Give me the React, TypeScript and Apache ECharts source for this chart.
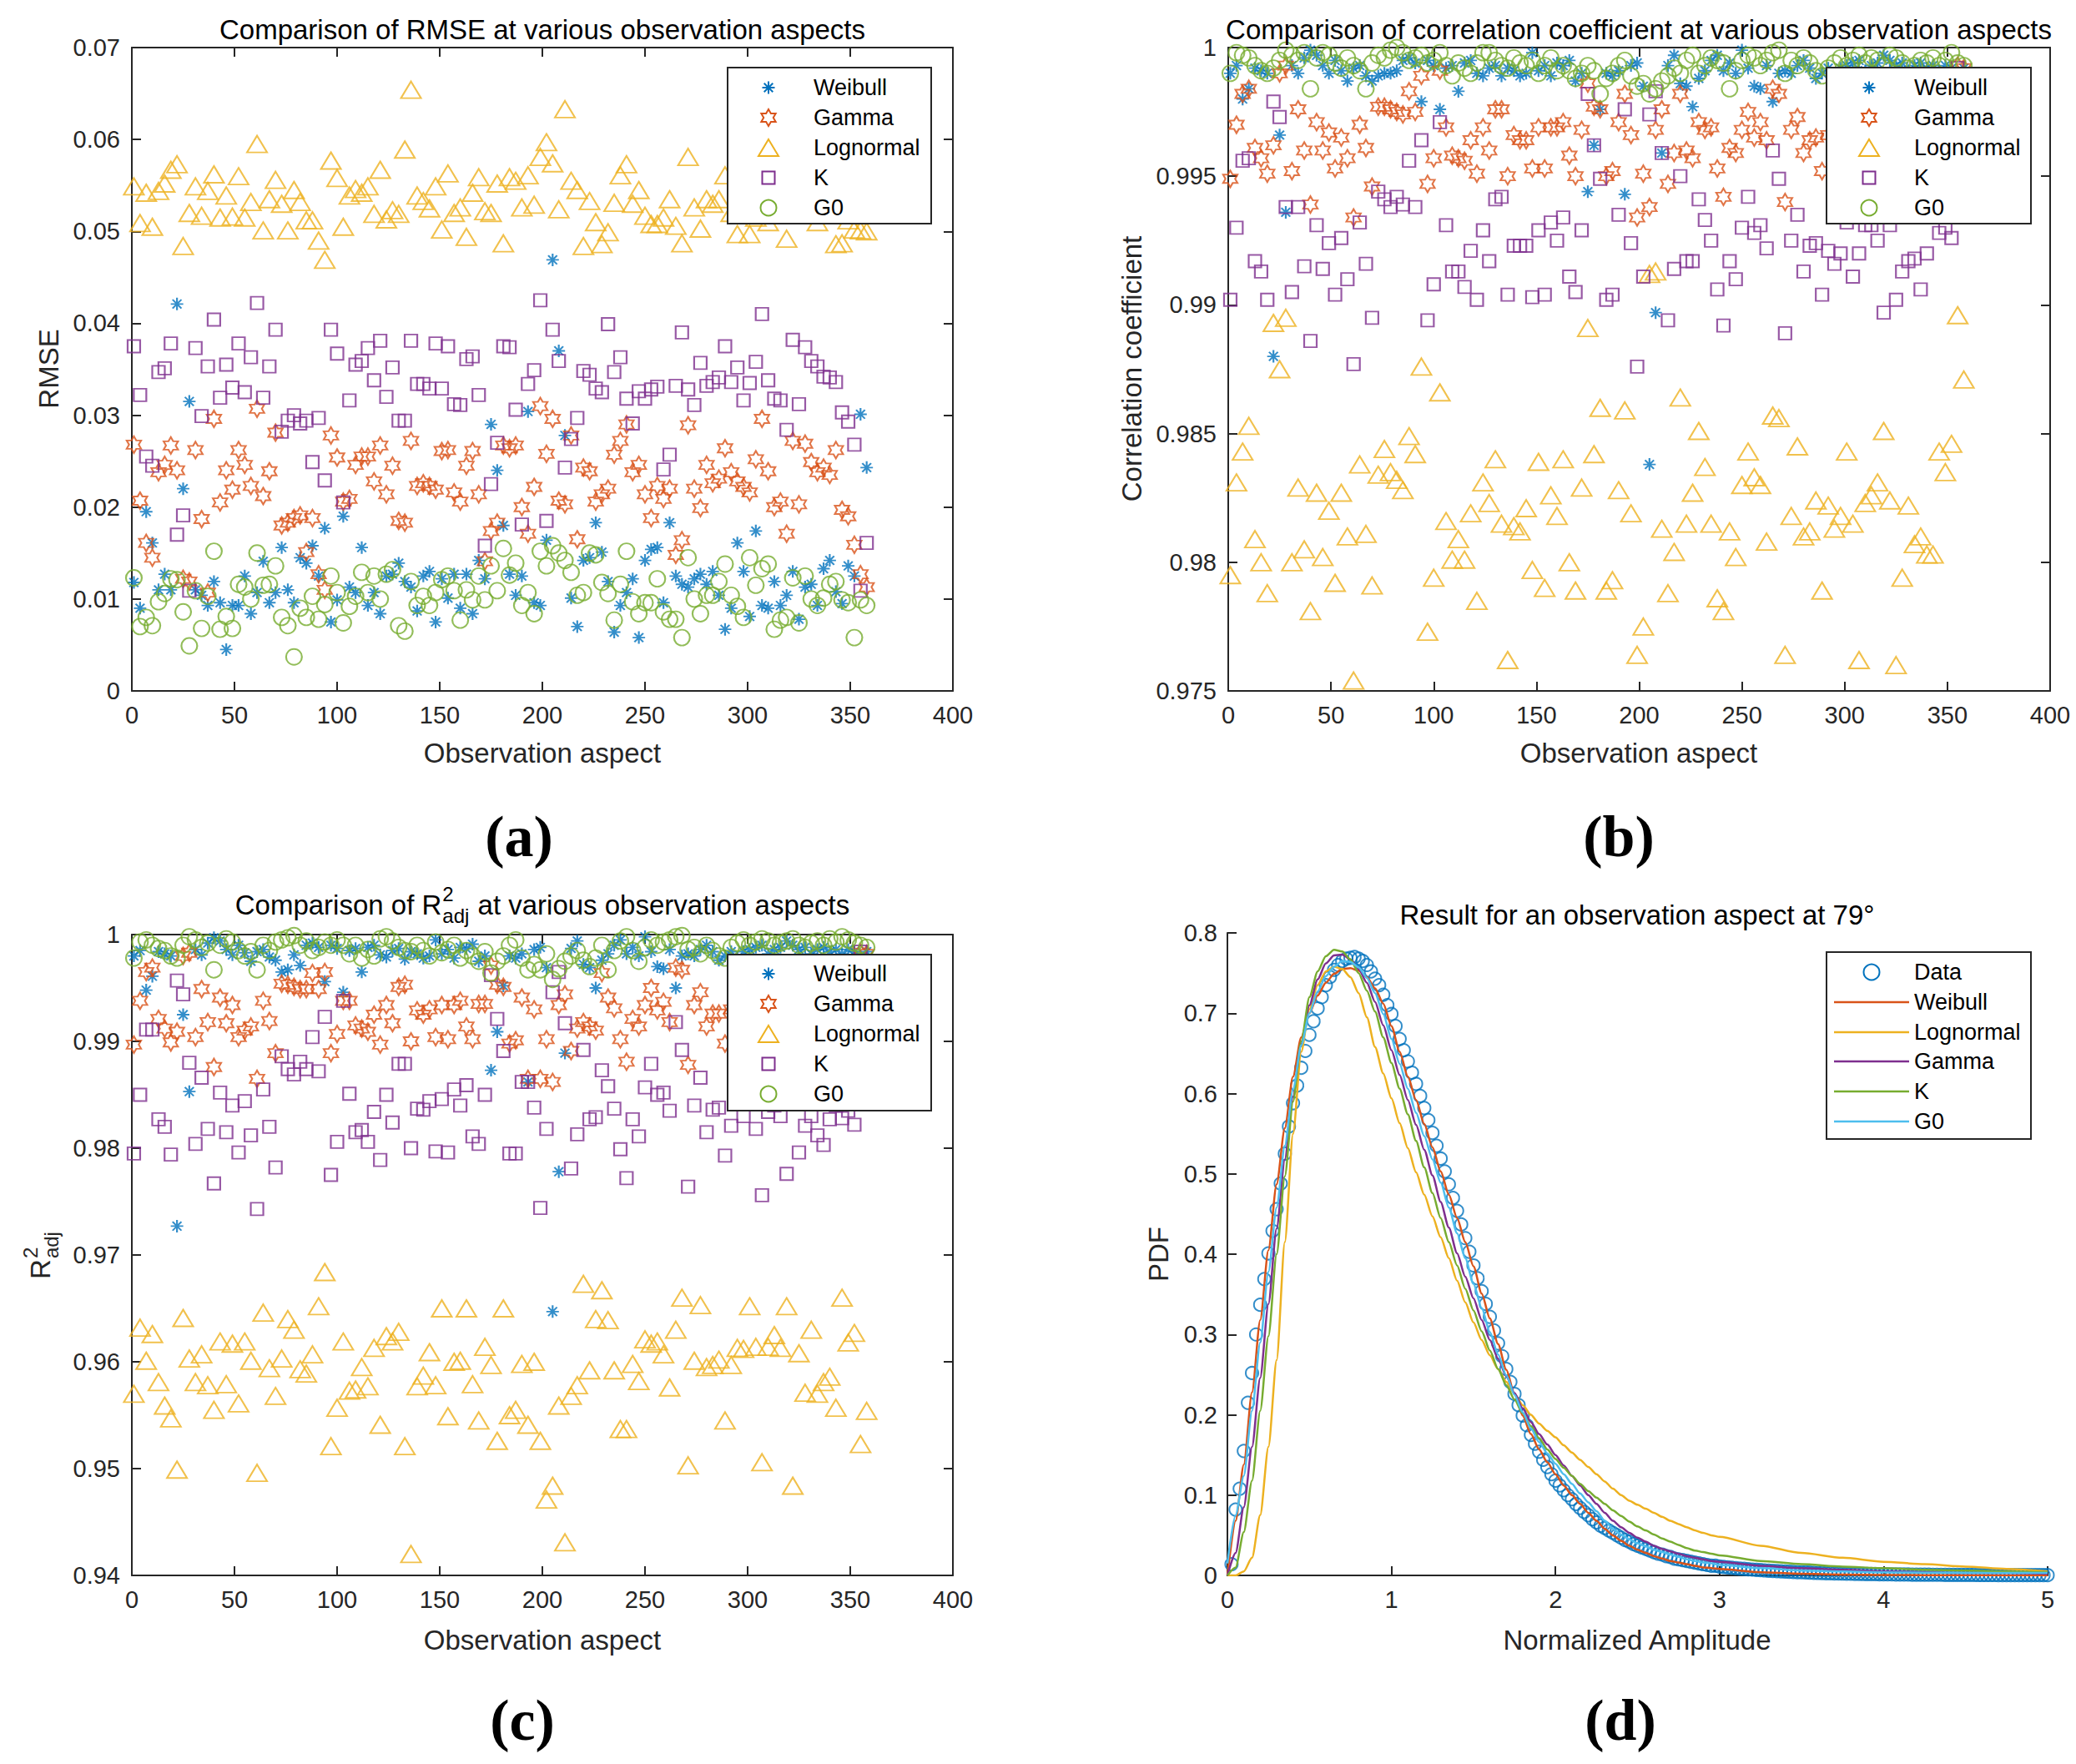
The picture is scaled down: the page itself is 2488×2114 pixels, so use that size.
import React, { useEffect, useRef } from 'react';
import * as echarts from 'echarts';

const FONT = '"Liberation Sans", Arial, Helvetica, sans-serif';
const SERIF = '"Liberation Serif", "Times New Roman", serif';
const AXIS_COLOR = '#262626';

const C_BLUE = '#0072BD';
const C_ORANGE = '#D95319';
const C_YELLOW = '#EDB120';
const C_PURPLE = '#7E2F8E';
const C_GREEN = '#77AC30';
const C_CYAN = '#4DBEEE';

// Observation aspects (degrees)
const aspects = [
  1, 4, 7, 10, 13, 16, 19, 22, 25, 28, 31, 34, 37, 40, 43, 46, 49, 52, 55, 58,
  61, 64, 67, 70, 73, 76, 79, 82, 85, 88, 91, 94, 97, 100, 103, 106, 109, 112, 115, 118,
  121, 124, 127, 130, 133, 136, 139, 142, 145, 148, 151, 154, 157, 160, 163, 166, 169, 172, 175, 178,
  181, 184, 187, 190, 193, 196, 199, 202, 205, 208, 211, 214, 217, 220, 223, 226, 229, 232, 235, 238,
  241, 244, 247, 250, 253, 256, 259, 262, 265, 268, 271, 274, 277, 280, 283, 286, 289, 292, 295, 298,
  301, 304, 307, 310, 313, 316, 319, 322, 325, 328, 331, 334, 337, 340, 343, 346, 349, 352, 355, 358,
];

// (a) RMSE
const rmseWeibull = [
  0.0118, 0.0090, 0.0195, 0.0161, 0.0110, 0.0127, 0.0110, 0.0421, 0.0220, 0.0315,
  0.0110, 0.0104, 0.0093, 0.0119, 0.0096, 0.0045, 0.0093, 0.0093, 0.0125, 0.0084,
  0.0107, 0.0141, 0.0096, 0.0107, 0.0156, 0.0110, 0.0096, 0.0145, 0.0139, 0.0158,
  0.0125, 0.0177, 0.0075, 0.0099, 0.0190, 0.0113, 0.0107, 0.0156, 0.0093, 0.0107,
  0.0084, 0.0125, 0.0127, 0.0139, 0.0119, 0.0113, 0.0087, 0.0125, 0.0130, 0.0075,
  0.0122, 0.0101, 0.0127, 0.0090, 0.0127, 0.0084, 0.0142, 0.0122, 0.0290, 0.0240,
  0.0180, 0.0127, 0.0104, 0.0125, 0.0304, 0.0096, 0.0093, 0.0164, 0.0469, 0.0370,
  0.0278, 0.0101, 0.0070, 0.0142, 0.0145, 0.0183, 0.0151, 0.0119, 0.0064, 0.0093,
  0.0107, 0.0122, 0.0058, 0.0142, 0.0154, 0.0156, 0.0096, 0.0183, 0.0125, 0.0116,
  0.0113, 0.0122, 0.0127, 0.0116, 0.0130, 0.0104, 0.0067, 0.0090, 0.0161, 0.0130,
  0.0081, 0.0174, 0.0093, 0.0090, 0.0119, 0.0093, 0.0104, 0.0130, 0.0078, 0.0113,
  0.0116, 0.0093, 0.0133, 0.0142, 0.0108, 0.0095, 0.0136, 0.0125, 0.0301, 0.0243,
];
const rmseGamma = [
  0.0268, 0.0207, 0.0161, 0.0145, 0.0238, 0.0246, 0.0267, 0.0240, 0.0122, 0.0119,
  0.0262, 0.0187, 0.0107, 0.0296, 0.0205, 0.0240, 0.0219, 0.0262, 0.0246, 0.0223,
  0.0307, 0.0212, 0.0239, 0.0281, 0.0180, 0.0183, 0.0188, 0.0191, 0.0151, 0.0188,
  0.0127, 0.0110, 0.0278, 0.0254, 0.0206, 0.0209, 0.0246, 0.0255, 0.0255, 0.0228,
  0.0267, 0.0214, 0.0245, 0.0185, 0.0183, 0.0272, 0.0223, 0.0226, 0.0223, 0.0219,
  0.0261, 0.0262, 0.0216, 0.0206, 0.0245, 0.0261, 0.0214, 0.0141, 0.0174, 0.0183,
  0.0267, 0.0264, 0.0267, 0.0200, 0.0171, 0.0222, 0.0310, 0.0258, 0.0296, 0.0207,
  0.0203, 0.0278, 0.0165, 0.0243, 0.0239, 0.0206, 0.0214, 0.0220, 0.0257, 0.0272,
  0.0290, 0.0238, 0.0246, 0.0214, 0.0188, 0.0223, 0.0209, 0.0220, 0.0148, 0.0164,
  0.0289, 0.0220, 0.0199, 0.0246, 0.0226, 0.0231, 0.0264, 0.0238, 0.0228, 0.0222,
  0.0216, 0.0252, 0.0296, 0.0239, 0.0200, 0.0206, 0.0171, 0.0272, 0.0203, 0.0269,
  0.0249, 0.0238, 0.0243, 0.0235, 0.0262, 0.0197, 0.0190, 0.0159, 0.0127, 0.0113,
];
const rmseLognormal = [
  0.0549, 0.0509, 0.0542, 0.0505, 0.0544, 0.0552, 0.0567, 0.0573, 0.0484, 0.0520,
  0.0549, 0.0517, 0.0544, 0.0562, 0.0515, 0.0539, 0.0516, 0.0560, 0.0515, 0.0532,
  0.0595, 0.0501, 0.0535, 0.0556, 0.0530, 0.0501, 0.0545, 0.0532, 0.0512, 0.0512,
  0.0490, 0.0469, 0.0577, 0.0558, 0.0505, 0.0539, 0.0546, 0.0542, 0.0549, 0.0519,
  0.0567, 0.0513, 0.0523, 0.0519, 0.0589, 0.0654, 0.0539, 0.0533, 0.0525, 0.0549,
  0.0502, 0.0563, 0.0520, 0.0526, 0.0494, 0.0542, 0.0559, 0.0522, 0.0520, 0.0552,
  0.0487, 0.0559, 0.0555, 0.0526, 0.0561, 0.0529, 0.0581, 0.0597, 0.0574, 0.0524,
  0.0633, 0.0555, 0.0545, 0.0484, 0.0533, 0.0510, 0.0486, 0.0499, 0.0531, 0.0561,
  0.0573, 0.0530, 0.0545, 0.0517, 0.0508, 0.0508, 0.0515, 0.0535, 0.0506, 0.0487,
  0.0581, 0.0526, 0.0503, 0.0535, 0.0530, 0.0535, 0.0561, 0.0520, 0.0497, 0.0535,
  0.0497, 0.0515, 0.0540, 0.0510, 0.0525, 0.0545, 0.0492, 0.0530, 0.0555, 0.0520,
  0.0540, 0.0510, 0.0535, 0.0528, 0.0486, 0.0487, 0.0512, 0.0502, 0.0501, 0.0500,
];
const rmseK = [
  0.0375, 0.0322, 0.0255, 0.0245, 0.0347, 0.0351, 0.0378, 0.0170, 0.0191, 0.0109,
  0.0373, 0.0299, 0.0353, 0.0404, 0.0319, 0.0355, 0.0330, 0.0378, 0.0325, 0.0363,
  0.0422, 0.0319, 0.0353, 0.0393, 0.0282, 0.0294, 0.0300, 0.0291, 0.0294, 0.0249,
  0.0297, 0.0229, 0.0393, 0.0367, 0.0205, 0.0316, 0.0355, 0.0359, 0.0373, 0.0338,
  0.0381, 0.0320, 0.0352, 0.0294, 0.0294, 0.0381, 0.0334, 0.0334, 0.0329, 0.0378,
  0.0329, 0.0375, 0.0312, 0.0311, 0.0361, 0.0364, 0.0322, 0.0158, 0.0225, 0.0270,
  0.0375, 0.0374, 0.0306, 0.0181, 0.0334, 0.0349, 0.0425, 0.0185, 0.0393, 0.0359,
  0.0243, 0.0274, 0.0297, 0.0348, 0.0344, 0.0329, 0.0325, 0.0399, 0.0347, 0.0363,
  0.0318, 0.0291, 0.0326, 0.0318, 0.0328, 0.0331, 0.0241, 0.0257, 0.0332, 0.0390,
  0.0328, 0.0311, 0.0357, 0.0332, 0.0336, 0.0341, 0.0375, 0.0336, 0.0352, 0.0316,
  0.0335, 0.0358, 0.0410, 0.0338, 0.0318, 0.0316, 0.0284, 0.0382, 0.0312, 0.0374,
  0.0359, 0.0353, 0.0342, 0.0341, 0.0336, 0.0303, 0.0293, 0.0268, 0.0109, 0.0161,
];
const rmseG0 = [
  0.0123, 0.0070, 0.0080, 0.0071, 0.0097, 0.0106, 0.0122, 0.0121, 0.0086, 0.0049,
  0.0109, 0.0068, 0.0103, 0.0152, 0.0067, 0.0081, 0.0068, 0.0116, 0.0113, 0.0100,
  0.0150, 0.0115, 0.0116, 0.0136, 0.0080, 0.0071, 0.0037, 0.0090, 0.0080, 0.0103,
  0.0078, 0.0094, 0.0125, 0.0107, 0.0074, 0.0092, 0.0103, 0.0129, 0.0107, 0.0125,
  0.0100, 0.0127, 0.0132, 0.0071, 0.0065, 0.0119, 0.0093, 0.0103, 0.0093, 0.0107,
  0.0121, 0.0125, 0.0109, 0.0077, 0.0110, 0.0099, 0.0125, 0.0099, 0.0136, 0.0109,
  0.0155, 0.0126, 0.0139, 0.0093, 0.0107, 0.0084, 0.0152, 0.0136, 0.0158, 0.0150,
  0.0142, 0.0129, 0.0104, 0.0107, 0.0150, 0.0148, 0.0118, 0.0106, 0.0077, 0.0116,
  0.0152, 0.0097, 0.0084, 0.0096, 0.0096, 0.0122, 0.0086, 0.0078, 0.0078, 0.0058,
  0.0145, 0.0100, 0.0084, 0.0104, 0.0104, 0.0119, 0.0138, 0.0104, 0.0092, 0.0080,
  0.0145, 0.0115, 0.0133, 0.0138, 0.0067, 0.0077, 0.0080, 0.0123, 0.0074, 0.0125,
  0.0100, 0.0093, 0.0101, 0.0116, 0.0119, 0.0099, 0.0096, 0.0058, 0.0099, 0.0093,
];

// (b) correlation coefficient
const corrWeibull = [
  0.9990, 0.9993, 0.9980, 0.9984, 0.9992, 0.9991, 0.9990, 0.9880, 0.9966, 0.9936,
  0.9993, 0.9990, 0.9996, 0.9999, 0.9997, 0.9993, 0.9990, 0.9995, 0.9991, 0.9987,
  0.9992, 0.9993, 0.9989, 0.9987, 0.9989, 0.9990, 0.9990, 0.9991, 0.9995, 0.9996,
  0.9994, 0.9979, 0.9995, 0.9993, 0.9976, 0.9992, 0.9993, 0.9983, 0.9994, 0.9995,
  0.9990, 0.9989, 0.9992, 0.9993, 0.9989, 0.9992, 0.9991, 0.9989, 0.9990, 0.9998,
  0.9991, 0.9993, 0.9989, 0.9994, 0.9993, 0.9995, 0.9987, 0.9990, 0.9944, 0.9962,
  0.9976, 0.9990, 0.9989, 0.9991, 0.9943, 0.9993, 0.9994, 0.9985, 0.9838, 0.9897,
  0.9959, 0.9993, 0.9997, 0.9986, 0.9985, 0.9977, 0.9988, 0.9991, 0.9995, 0.9997,
  0.9991, 0.9994, 0.9990, 0.9999, 0.9992, 0.9985, 0.9984, 0.9993, 0.9979, 0.9990,
  0.9991, 0.9990, 0.9993, 0.9995, 0.9992, 0.9988, 0.9990, 0.9992, 0.9989, 0.9992,
  0.9993, 0.9994, 0.9995, 0.9991, 0.9993, 0.9994, 0.9997, 0.9995, 0.9993, 0.9994,
  0.9991, 0.9993, 0.9994, 0.9992, 0.9993, 0.9991, 0.9993, 0.9992, 0.9990, 0.9992,
];
const corrGamma = [
  0.9949, 0.9970, 0.9982, 0.9984, 0.9961, 0.9957, 0.9951, 0.9962, 0.9990, 0.9993,
  0.9952, 0.9976, 0.9960, 0.9939, 0.9971, 0.9960, 0.9967, 0.9953, 0.9965, 0.9957,
  0.9934, 0.9970, 0.9961, 0.9946, 0.9977, 0.9977, 0.9976, 0.9975, 0.9974, 0.9983,
  0.9975, 0.9989, 0.9947, 0.9957, 0.9991, 0.9969, 0.9958, 0.9957, 0.9956, 0.9964,
  0.9951, 0.9969, 0.9960, 0.9976, 0.9976, 0.9950, 0.9966, 0.9964, 0.9964, 0.9953,
  0.9969, 0.9953, 0.9969, 0.9969, 0.9971, 0.9958, 0.9950, 0.9968, 0.9986, 0.9977,
  0.9976, 0.9950, 0.9952, 0.9971, 0.9982, 0.9966, 0.9934, 0.9951, 0.9938, 0.9968,
  0.9976, 0.9947, 0.9959, 0.9982, 0.9960, 0.9957, 0.9971, 0.9968, 0.9969, 0.9953,
  0.9942, 0.9961, 0.9959, 0.9968, 0.9975, 0.9965, 0.9971, 0.9964, 0.9984, 0.9982,
  0.9940, 0.9968, 0.9973, 0.9959, 0.9964, 0.9965, 0.9952, 0.9966, 0.9962, 0.9957,
  0.9970, 0.9965, 0.9960, 0.9972, 0.9968, 0.9963, 0.9958, 0.9966, 0.9970, 0.9961,
  0.9964, 0.9967, 0.9969, 0.9972, 0.9965, 0.9960, 0.9968, 0.9963, 0.9993, 0.9992,
];
const corrLognormal = [
  0.9795, 0.9831, 0.9843, 0.9853, 0.9809, 0.9800, 0.9788, 0.9893, 0.9875, 0.9895,
  0.9800, 0.9829, 0.9805, 0.9781, 0.9827, 0.9802, 0.9820, 0.9792, 0.9827, 0.9810,
  0.9754, 0.9838, 0.9811, 0.9791, 0.9834, 0.9844, 0.9835, 0.9832, 0.9828, 0.9849,
  0.9842, 0.9876, 0.9773, 0.9794, 0.9866, 0.9816, 0.9801, 0.9809, 0.9801, 0.9819,
  0.9785, 0.9831, 0.9823, 0.9840, 0.9815, 0.9762, 0.9814, 0.9812, 0.9821, 0.9797,
  0.9839, 0.9790, 0.9826, 0.9818, 0.9840, 0.9800, 0.9789, 0.9829, 0.9891, 0.9842,
  0.9860, 0.9789, 0.9793, 0.9828, 0.9859, 0.9819, 0.9764, 0.9775, 0.9912, 0.9913,
  0.9813, 0.9788, 0.9804, 0.9864, 0.9815, 0.9827, 0.9851, 0.9837, 0.9815, 0.9786,
  0.9781, 0.9812, 0.9802, 0.9830, 0.9843, 0.9833, 0.9830, 0.9808, 0.9857, 0.9856,
  0.9764, 0.9818, 0.9845, 0.9810, 0.9812, 0.9824, 0.9789, 0.9822, 0.9813, 0.9818,
  0.9843, 0.9815, 0.9762, 0.9823, 0.9826, 0.9831, 0.9851, 0.9824, 0.9760, 0.9794,
  0.9822, 0.9807, 0.9810, 0.9803, 0.9803, 0.9843, 0.9835, 0.9846, 0.9896, 0.9871,
];
const corrK = [
  0.9902, 0.9930, 0.9956, 0.9957, 0.9917, 0.9913, 0.9902, 0.9979, 0.9973, 0.9938,
  0.9905, 0.9938, 0.9915, 0.9886, 0.9931, 0.9914, 0.9924, 0.9904, 0.9926, 0.9910,
  0.9877, 0.9932, 0.9916, 0.9895, 0.9944, 0.9941, 0.9938, 0.9942, 0.9939, 0.9956,
  0.9938, 0.9964, 0.9894, 0.9908, 0.9971, 0.9931, 0.9913, 0.9913, 0.9907, 0.9921,
  0.9902, 0.9929, 0.9917, 0.9941, 0.9942, 0.9904, 0.9923, 0.9923, 0.9923, 0.9903,
  0.9929, 0.9904, 0.9932, 0.9925, 0.9934, 0.9911, 0.9905, 0.9929, 0.9982, 0.9962,
  0.9949, 0.9902, 0.9904, 0.9935, 0.9976, 0.9924, 0.9876, 0.9911, 0.9974, 0.9983,
  0.9959, 0.9894, 0.9914, 0.9950, 0.9917, 0.9917, 0.9941, 0.9933, 0.9925, 0.9906,
  0.9892, 0.9917, 0.9910, 0.9930, 0.9942, 0.9928, 0.9931, 0.9922, 0.9960, 0.9949,
  0.9889, 0.9925, 0.9935, 0.9913, 0.9923, 0.9924, 0.9904, 0.9921, 0.9916, 0.9920,
  0.9932, 0.9911, 0.9920, 0.9931, 0.9931, 0.9925, 0.9897, 0.9931, 0.9902, 0.9913,
  0.9917, 0.9918, 0.9906, 0.9920, 0.9935, 0.9928, 0.9930, 0.9926, 0.9992, 0.9965,
];
const corrG0 = [
  0.9990, 0.9998, 0.9997, 0.9996, 0.9993, 0.9991, 0.9990, 0.9992, 0.9995, 0.9999,
  0.9997, 0.9995, 0.9998, 0.9984, 0.9996, 0.9998, 0.9997, 0.9994, 0.9992, 0.9996,
  0.9993, 0.9991, 0.9984, 0.9994, 0.9997, 0.9996, 0.9999, 1.0000, 0.9998, 0.9995,
  0.9996, 0.9997, 0.9994, 0.9995, 0.9998, 0.9993, 0.9989, 0.9994, 0.9992, 0.9990,
  0.9994, 0.9998, 0.9998, 0.9995, 0.9993, 0.9992, 0.9996, 0.9994, 0.9993, 0.9995,
  0.9990, 0.9993, 0.9996, 0.9991, 0.9993, 0.9991, 0.9988, 0.9990, 0.9993, 0.9991,
  0.9982, 0.9988, 0.9990, 0.9993, 0.9995, 0.9989, 0.9985, 0.9986, 0.9982, 0.9984,
  0.9987, 0.9989, 0.9992, 0.9990, 0.9995, 0.9997, 0.9990, 0.9993, 0.9996, 0.9995,
  0.9994, 0.9984, 0.9991, 0.9995, 0.9997, 0.9996, 0.9993, 0.9995, 0.9998, 0.9999,
  0.9990, 0.9995, 0.9993, 0.9996, 0.9994, 0.9991, 0.9989, 0.9992, 0.9994, 0.9996,
  0.9993, 0.9995, 0.9997, 0.9994, 0.9996, 0.9995, 0.9993, 0.9997, 0.9996, 0.9994,
  0.9992, 0.9993, 0.9995, 0.9994, 0.9996, 0.9993, 0.9995, 0.9998, 0.9994, 0.9993,
];

// (c) adjusted R^2
const r2Weibull = [
  0.9980, 0.9985, 0.9948, 0.9961, 0.9984, 0.9982, 0.9980, 0.9727, 0.9925, 0.9853,
  0.9986, 0.9981, 0.9992, 0.9997, 0.9994, 0.9986, 0.9981, 0.9990, 0.9983, 0.9975,
  0.9984, 0.9986, 0.9979, 0.9976, 0.9965, 0.9967, 0.9981, 0.9971, 0.9990, 0.9992,
  0.9988, 0.9956, 0.9990, 0.9987, 0.9946, 0.9985, 0.9987, 0.9965, 0.9988, 0.9990,
  0.9981, 0.9979, 0.9985, 0.9987, 0.9977, 0.9984, 0.9982, 0.9978, 0.9980, 0.9995,
  0.9982, 0.9986, 0.9978, 0.9988, 0.9987, 0.9991, 0.9975, 0.9980, 0.9873, 0.9909,
  0.9952, 0.9980, 0.9978, 0.9982, 0.9862, 0.9986, 0.9988, 0.9969, 0.9647, 0.9778,
  0.9889, 0.9987, 0.9994, 0.9972, 0.9969, 0.9950, 0.9976, 0.9982, 0.9990, 0.9995,
  0.9982, 0.9988, 0.9980, 0.9998, 0.9984, 0.9970, 0.9968, 0.9986, 0.9950, 0.9980,
  0.9982, 0.9980, 0.9986, 0.9990, 0.9984, 0.9976, 0.9980, 0.9984, 0.9978, 0.9984,
  0.9986, 0.9988, 0.9990, 0.9982, 0.9986, 0.9988, 0.9994, 0.9990, 0.9986, 0.9988,
  0.9982, 0.9986, 0.9988, 0.9984, 0.9986, 0.9982, 0.9986, 0.9984, 0.9980, 0.9984,
];
const r2Gamma = [
  0.9897, 0.9938, 0.9965, 0.9969, 0.9921, 0.9912, 0.9899, 0.9909, 0.9980, 0.9983,
  0.9904, 0.9949, 0.9918, 0.9876, 0.9941, 0.9917, 0.9934, 0.9904, 0.9910, 0.9914,
  0.9865, 0.9938, 0.9919, 0.9889, 0.9954, 0.9953, 0.9951, 0.9949, 0.9949, 0.9964,
  0.9949, 0.9965, 0.9889, 0.9907, 0.9938, 0.9938, 0.9915, 0.9912, 0.9909, 0.9925,
  0.9897, 0.9934, 0.9917, 0.9951, 0.9953, 0.9900, 0.9929, 0.9925, 0.9930, 0.9904,
  0.9934, 0.9902, 0.9934, 0.9938, 0.9914, 0.9902, 0.9935, 0.9935, 0.9971, 0.9953,
  0.9951, 0.9898, 0.9901, 0.9941, 0.9865, 0.9930, 0.9865, 0.9902, 0.9862, 0.9934,
  0.9944, 0.9891, 0.9912, 0.9918, 0.9914, 0.9910, 0.9964, 0.9941, 0.9931, 0.9902,
  0.9881, 0.9921, 0.9914, 0.9934, 0.9950, 0.9929, 0.9937, 0.9918, 0.9969, 0.9967,
  0.9878, 0.9934, 0.9946, 0.9914, 0.9926, 0.9926, 0.9898, 0.9930, 0.9922, 0.9935,
  0.9940, 0.9928, 0.9918, 0.9944, 0.9936, 0.9925, 0.9916, 0.9932, 0.9940, 0.9921,
  0.9928, 0.9935, 0.9939, 0.9944, 0.9930, 0.9920, 0.9936, 0.9928, 0.9983, 0.9982,
];
const r2Lognormal = [
  0.9570, 0.9632, 0.9601, 0.9626, 0.9581, 0.9559, 0.9547, 0.9499, 0.9641, 0.9603,
  0.9581, 0.9607, 0.9578, 0.9555, 0.9619, 0.9579, 0.9617, 0.9561, 0.9619, 0.9601,
  0.9496, 0.9646, 0.9594, 0.9568, 0.9603, 0.9640, 0.9630, 0.9593, 0.9589, 0.9607,
  0.9652, 0.9684, 0.9521, 0.9557, 0.9619, 0.9573, 0.9574, 0.9595, 0.9577, 0.9613,
  0.9541, 0.9624, 0.9619, 0.9628, 0.9521, 0.9420, 0.9577, 0.9587, 0.9609, 0.9578,
  0.9650, 0.9549, 0.9600, 0.9601, 0.9650, 0.9579, 0.9545, 0.9614, 0.9597, 0.9526,
  0.9650, 0.9550, 0.9555, 0.9598, 0.9541, 0.9600, 0.9526, 0.9471, 0.9484, 0.9559,
  0.9431, 0.9568, 0.9578, 0.9673, 0.9592, 0.9640, 0.9667, 0.9639, 0.9592, 0.9537,
  0.9537, 0.9598, 0.9582, 0.9621, 0.9617, 0.9619, 0.9607, 0.9576, 0.9630, 0.9660,
  0.9503, 0.9601, 0.9653, 0.9595, 0.9597, 0.9602, 0.9545, 0.9597, 0.9613, 0.9612,
  0.9652, 0.9614, 0.9506, 0.9614, 0.9625, 0.9613, 0.9652, 0.9484, 0.9608, 0.9571,
  0.9630, 0.9570, 0.9581, 0.9586, 0.9557, 0.9660, 0.9618, 0.9627, 0.9523, 0.9554,
];
const r2K = [
  0.9795, 0.9850, 0.9911, 0.9911, 0.9827, 0.9820, 0.9794, 0.9957, 0.9944, 0.9880,
  0.9804, 0.9866, 0.9818, 0.9767, 0.9852, 0.9815, 0.9840, 0.9796, 0.9844, 0.9812,
  0.9743, 0.9855, 0.9820, 0.9782, 0.9886, 0.9874, 0.9869, 0.9881, 0.9874, 0.9904,
  0.9872, 0.9923, 0.9775, 0.9806, 0.9938, 0.9851, 0.9815, 0.9817, 0.9806, 0.9834,
  0.9789, 0.9850, 0.9824, 0.9879, 0.9879, 0.9800, 0.9837, 0.9836, 0.9844, 0.9797,
  0.9846, 0.9796, 0.9855, 0.9840, 0.9859, 0.9811, 0.9804, 0.9850, 0.9962, 0.9921,
  0.9891, 0.9795, 0.9795, 0.9862, 0.9862, 0.9838, 0.9744, 0.9818, 0.9946, 0.9965,
  0.9917, 0.9781, 0.9813, 0.9892, 0.9827, 0.9829, 0.9873, 0.9858, 0.9837, 0.9799,
  0.9772, 0.9827, 0.9811, 0.9857, 0.9879, 0.9850, 0.9852, 0.9835, 0.9918, 0.9892,
  0.9764, 0.9840, 0.9866, 0.9815, 0.9836, 0.9838, 0.9793, 0.9821, 0.9845, 0.9830,
  0.9850, 0.9818, 0.9756, 0.9834, 0.9840, 0.9830, 0.9776, 0.9845, 0.9796, 0.9821,
  0.9830, 0.9812, 0.9803, 0.9827, 0.9840, 0.9828, 0.9835, 0.9822, 0.9984, 0.9930,
];
const r2G0 = [
  0.9978, 0.9993, 0.9995, 0.9990, 0.9987, 0.9985, 0.9980, 0.9978, 0.9990, 0.9998,
  0.9995, 0.9988, 0.9992, 0.9967, 0.9990, 0.9996, 0.9993, 0.9985, 0.9980, 0.9984,
  0.9967, 0.9990, 0.9985, 0.9993, 0.9995, 0.9997, 0.9999, 0.9990, 0.9994, 0.9985,
  0.9988, 0.9993, 0.9990, 0.9995, 0.9990, 0.9982, 0.9990, 0.9978, 0.9986, 0.9980,
  0.9996, 0.9998, 0.9994, 0.9988, 0.9985, 0.9984, 0.9990, 0.9985, 0.9980, 0.9993,
  0.9983, 0.9986, 0.9990, 0.9978, 0.9985, 0.9980, 0.9975, 0.9984, 0.9964, 0.9975,
  0.9980, 0.9990, 0.9995, 0.9978, 0.9967, 0.9972, 0.9967, 0.9982, 0.9958, 0.9968,
  0.9975, 0.9980, 0.9985, 0.9976, 0.9970, 0.9978, 0.9990, 0.9967, 0.9985, 0.9994,
  0.9998, 0.9985, 0.9975, 0.9988, 0.9995, 0.9990, 0.9993, 0.9995, 0.9998, 0.9999,
  0.9986, 0.9988, 0.9982, 0.9990, 0.9985, 0.9980, 0.9978, 0.9988, 0.9992, 0.9995,
  0.9990, 0.9993, 0.9996, 0.9994, 0.9990, 0.9992, 0.9994, 0.9996, 0.9990, 0.9988,
  0.9992, 0.9994, 0.9990, 0.9996, 0.9993, 0.9998, 0.9995, 0.9992, 0.9990, 0.9988,
];

// (d) PDF at 79 degrees: measured data, sampled every 0.025 from 0.025 to 5.0
const PDF_STEP = 0.025;
const pdfData = [
  0.014, 0.082, 0.108, 0.155, 0.215, 0.252, 0.300, 0.337, 0.369, 0.401,
  0.429, 0.456, 0.488, 0.525, 0.559, 0.588, 0.610, 0.632, 0.653, 0.673,
  0.690, 0.706, 0.720, 0.735, 0.745, 0.754, 0.760, 0.765, 0.768, 0.769,
  0.770, 0.768, 0.765, 0.760, 0.752, 0.743, 0.735, 0.723, 0.710, 0.699,
  0.684, 0.668, 0.654, 0.640, 0.626, 0.612, 0.597, 0.582, 0.567, 0.551,
  0.535, 0.519, 0.503, 0.487, 0.470, 0.454, 0.437, 0.420, 0.403, 0.386,
  0.370, 0.354, 0.338, 0.322, 0.305, 0.289, 0.273, 0.257, 0.241, 0.226,
  0.212, 0.199, 0.187, 0.175, 0.164, 0.154, 0.144, 0.135, 0.126, 0.118,
  0.112, 0.106, 0.100, 0.095, 0.089, 0.084, 0.079, 0.075, 0.070, 0.066,
  0.062, 0.059, 0.056, 0.053, 0.050, 0.047, 0.044, 0.042, 0.039, 0.037,
  0.035, 0.033, 0.031, 0.029, 0.027, 0.026, 0.024, 0.023, 0.021, 0.020,
  0.019, 0.018, 0.017, 0.016, 0.015, 0.014, 0.013, 0.012, 0.012, 0.011,
  0.0105, 0.0100, 0.0095, 0.0090, 0.0085, 0.0081, 0.0077, 0.0073, 0.0069, 0.0066,
  0.0062, 0.0059, 0.0056, 0.0053, 0.0050, 0.0048, 0.0045, 0.0043, 0.0041, 0.0039,
  0.0037, 0.0035, 0.0033, 0.0031, 0.0030, 0.0028, 0.0027, 0.0025, 0.0024, 0.0023,
  0.0022, 0.0021, 0.0020, 0.0019, 0.0018, 0.0017, 0.0016, 0.0016, 0.0015, 0.0014,
  0.0014, 0.0013, 0.0012, 0.0012, 0.0011, 0.0011, 0.0010, 0.0010, 0.0010, 0.0009,
  0.0009, 0.0008, 0.0008, 0.0008, 0.0007, 0.0007, 0.0007, 0.0007, 0.0006, 0.0006,
  0.0006, 0.0006, 0.0005, 0.0005, 0.0005, 0.0005, 0.0005, 0.0004, 0.0004, 0.0004,
  0.0004, 0.0004, 0.0004, 0.0003, 0.0003, 0.0003, 0.0003, 0.0003, 0.0003, 0.0003,
];

// Fitted PDF curves
const pdfLineX = [
  0, 0.05, 0.1, 0.15, 0.2, 0.25, 0.3, 0.35, 0.4, 0.45,
  0.5, 0.55, 0.6, 0.65, 0.7, 0.75, 0.8, 0.85, 0.9, 0.95,
  1, 1.05, 1.1, 1.15, 1.2, 1.25, 1.3, 1.35, 1.4, 1.45,
  1.5, 1.55, 1.6, 1.65, 1.7, 1.75, 1.8, 1.85, 1.9, 1.95,
  2, 2.05, 2.1, 2.15, 2.2, 2.25, 2.3, 2.35, 2.4, 2.45,
  2.5, 2.55, 2.6, 2.65, 2.7, 2.75, 2.8, 2.85, 2.9, 2.95,
  3, 3.25, 3.5, 3.75, 4, 4.25, 4.5, 4.75, 5,
];
const pdfWeibull = [
  0, 0.068, 0.138, 0.228, 0.318, 0.405, 0.487, 0.557, 0.621, 0.670,
  0.700, 0.722, 0.738, 0.749, 0.755, 0.756, 0.753, 0.745, 0.731, 0.712,
  0.684, 0.652, 0.621, 0.592, 0.562, 0.533, 0.503, 0.474, 0.445, 0.415,
  0.385, 0.351, 0.320, 0.288, 0.256, 0.226, 0.199, 0.176, 0.157, 0.141,
  0.126, 0.112, 0.100, 0.089, 0.078, 0.068, 0.058, 0.050, 0.043, 0.037,
  0.032, 0.028, 0.024, 0.021, 0.018, 0.016, 0.014, 0.012, 0.010, 0.009,
  0.008, 0.004, 0.002, 0.001, 0.0006, 0.0003, 0.0002, 0.0001, 0,
];
const pdfLognormal = [
  0, 0, 0.005, 0.022, 0.075, 0.160, 0.268, 0.415, 0.550, 0.652,
  0.705, 0.735, 0.752, 0.758, 0.755, 0.745, 0.725, 0.695, 0.658, 0.625,
  0.594, 0.563, 0.532, 0.502, 0.474, 0.447, 0.421, 0.395, 0.367, 0.340,
  0.315, 0.293, 0.274, 0.257, 0.241, 0.226, 0.212, 0.200, 0.189, 0.180,
  0.172, 0.162, 0.153, 0.144, 0.135, 0.126, 0.117, 0.108, 0.100, 0.093,
  0.088, 0.083, 0.078, 0.073, 0.068, 0.064, 0.060, 0.056, 0.053, 0.050,
  0.048, 0.037, 0.028, 0.022, 0.017, 0.014, 0.011, 0.008, 0.005,
];
const pdfGamma = [
  0, 0.028, 0.085, 0.160, 0.246, 0.338, 0.432, 0.518, 0.596, 0.662,
  0.710, 0.742, 0.762, 0.772, 0.773, 0.767, 0.755, 0.738, 0.714, 0.685,
  0.654, 0.623, 0.592, 0.561, 0.530, 0.498, 0.465, 0.433, 0.401, 0.372,
  0.345, 0.318, 0.293, 0.270, 0.248, 0.227, 0.208, 0.191, 0.176, 0.163,
  0.150, 0.137, 0.124, 0.112, 0.100, 0.089, 0.078, 0.068, 0.060, 0.053,
  0.047, 0.042, 0.037, 0.033, 0.030, 0.027, 0.024, 0.022, 0.020, 0.018,
  0.017, 0.012, 0.009, 0.007, 0.005, 0.004, 0.003, 0.003, 0.002,
];
const pdfK = [
  0, 0.010, 0.054, 0.118, 0.205, 0.298, 0.400, 0.497, 0.590, 0.665,
  0.720, 0.752, 0.771, 0.779, 0.777, 0.767, 0.750, 0.728, 0.702, 0.670,
  0.638, 0.606, 0.574, 0.541, 0.508, 0.476, 0.445, 0.415, 0.386, 0.357,
  0.330, 0.304, 0.280, 0.257, 0.237, 0.219, 0.202, 0.186, 0.171, 0.157,
  0.145, 0.134, 0.124, 0.114, 0.105, 0.097, 0.089, 0.081, 0.074, 0.067,
  0.061, 0.056, 0.051, 0.046, 0.042, 0.038, 0.034, 0.031, 0.029, 0.027,
  0.025, 0.018, 0.014, 0.011, 0.009, 0.007, 0.006, 0.005, 0.004,
];
const pdfG0 = [
  0.015, 0.075, 0.124, 0.205, 0.290, 0.378, 0.458, 0.535, 0.605, 0.660,
  0.700, 0.727, 0.746, 0.758, 0.765, 0.764, 0.757, 0.744, 0.725, 0.699,
  0.668, 0.637, 0.606, 0.576, 0.547, 0.518, 0.489, 0.458, 0.426, 0.395,
  0.363, 0.333, 0.303, 0.275, 0.249, 0.225, 0.203, 0.183, 0.166, 0.152,
  0.139, 0.126, 0.114, 0.102, 0.091, 0.080, 0.068, 0.058, 0.051, 0.045,
  0.040, 0.036, 0.032, 0.029, 0.026, 0.023, 0.020, 0.018, 0.016, 0.015,
  0.013, 0.009, 0.006, 0.005, 0.004, 0.0035, 0.003, 0.003, 0.003,
];

const scatterNames = ['Weibull', 'Gamma', 'Lognormal', 'K', 'G0'];
const scatterColors = [C_BLUE, C_ORANGE, C_YELLOW, C_PURPLE, C_GREEN];
const pdfLineNames = ['Weibull', 'Lognormal', 'Gamma', 'K', 'G0'];
const pdfLineColors = [C_ORANGE, C_YELLOW, C_PURPLE, C_GREEN, C_CYAN];

// marker shapes, all drawn in the same 24x20 frame
const FRAME = 'M-12,-10 M12,10 ';
const MARKERS = [
  'path://' + FRAME + 'M0,-7.5 L0,7.5 M-7.5,0 L7.5,0 M-5.3,-5.3 L5.3,5.3 M-5.3,5.3 L5.3,-5.3',
  'path://' + FRAME + 'M0,-10 L2.887,-5 L8.66,-5 L5.774,0 L8.66,5 L2.887,5 L0,10 L-2.887,5 L-8.66,5 L-5.774,0 L-8.66,-5 L-2.887,-5 Z',
  'path://' + FRAME + 'M0,-10 L12,10 L-12,10 Z',
  'path://' + FRAME + 'M-7.5,-7.5 L7.5,-7.5 L7.5,7.5 L-7.5,7.5 Z',
  'path://' + FRAME + 'M-9.5,0 A9.5,9.5 0 1 1 9.5,0 A9.5,9.5 0 1 1 -9.5,0 Z',
];

const fmt = (v: number) => String(parseFloat(v.toFixed(4)));

function measure(text: string, size: number): number {
  const ctx = document.createElement('canvas').getContext('2d');
  if (!ctx) return text.length * size * 0.5;
  ctx.font = `${size}px ${FONT}`;
  return ctx.measureText(text).width;
}

function makeAxis(gridIndex: number, position: string, min: number, max: number, interval: number, showLabel: boolean, margin: number) {
  return {
    type: 'value',
    gridIndex,
    position,
    min,
    max,
    interval,
    axisLine: { show: true, onZero: false, lineStyle: { color: AXIS_COLOR, width: 2 } },
    axisTick: { show: true, inside: true, length: 11, lineStyle: { color: AXIS_COLOR, width: 2 } },
    axisLabel: {
      show: showLabel,
      color: AXIS_COLOR,
      fontSize: 29,
      fontFamily: FONT,
      margin,
      formatter: fmt,
      showMinLabel: true,
      showMaxLabel: true,
    },
    splitLine: { show: false },
  };
}

function scatterPanel(axisIndex: number, sets: number[][]) {
  return sets.map((vals, k) => ({
    type: 'scatter',
    name: scatterNames[k],
    xAxisIndex: axisIndex,
    yAxisIndex: axisIndex,
    data: vals.map((v, i) => [aspects[i], v]),
    symbol: MARKERS[k],
    symbolSize: [24, 20],
    itemStyle: { color: 'transparent', borderColor: scatterColors[k], borderWidth: 2 },
    clip: false,
    silent: true,
    z: 2,
  }));
}

function txt(text: string, x: number, y: number, size: number, fill: string, opts: any = {}) {
  return {
    type: 'text',
    x,
    y,
    rotation: opts.rotation || 0,
    z: opts.z || 60,
    silent: true,
    style: {
      text,
      fontSize: size,
      fontFamily: opts.family || FONT,
      fontWeight: opts.weight || 'normal',
      fill,
      align: opts.align || 'center',
      verticalAlign: 'middle',
      textAlign: opts.align || 'center',
      textVerticalAlign: 'middle',
    },
  };
}

// legend marker glyphs drawn with graphic primitives
function markerEls(k: number, cx: number, cy: number, color: string): any[] {
  const st = { fill: 'none', stroke: color, lineWidth: 2 };
  const z = 60;
  if (k === 0) {
    const segs = [
      [0, -7.5, 0, 7.5],
      [-7.5, 0, 7.5, 0],
      [-5.3, -5.3, 5.3, 5.3],
      [-5.3, 5.3, 5.3, -5.3],
    ];
    return segs.map((s) => ({
      type: 'line', z, silent: true,
      shape: { x1: cx + s[0], y1: cy + s[1], x2: cx + s[2], y2: cy + s[3] },
      style: { stroke: color, lineWidth: 2 },
    }));
  }
  if (k === 1) {
    const pts = [
      [0, -10], [2.887, -5], [8.66, -5], [5.774, 0], [8.66, 5], [2.887, 5],
      [0, 10], [-2.887, 5], [-8.66, 5], [-5.774, 0], [-8.66, -5], [-2.887, -5],
    ].map((p) => [cx + p[0], cy + p[1]]);
    return [{ type: 'polygon', z, silent: true, shape: { points: pts }, style: st }];
  }
  if (k === 2) {
    return [{
      type: 'polygon', z, silent: true,
      shape: { points: [[cx, cy - 10], [cx + 12, cy + 10], [cx - 12, cy + 10]] },
      style: st,
    }];
  }
  if (k === 3) {
    return [{ type: 'rect', z, silent: true, shape: { x: cx - 7.5, y: cy - 7.5, width: 15, height: 15 }, style: st }];
  }
  return [{ type: 'circle', z, silent: true, shape: { cx, cy, r: 9.5 }, style: st }];
}

function scatterLegend(left: number, top: number, width: number, height: number, markerX: number, textX: number, rowY: number[]): any[] {
  const els: any[] = [{
    type: 'rect', z: 55, silent: true,
    shape: { x: left, y: top, width, height },
    style: { fill: '#ffffff', stroke: AXIS_COLOR, lineWidth: 2 },
  }];
  scatterNames.forEach((n, k) => {
    els.push(...markerEls(k, markerX, rowY[k], scatterColors[k]));
    els.push(txt(n, textX, rowY[k], 27, '#000', { align: 'left' }));
  });
  return els;
}

function pdfLegend(): any[] {
  const left = 2189;
  const top = 1141;
  const rows = [1165, 1201, 1237, 1272, 1308, 1344];
  const els: any[] = [{
    type: 'rect', z: 55, silent: true,
    shape: { x: left, y: top, width: 245, height: 224 },
    style: { fill: '#ffffff', stroke: AXIS_COLOR, lineWidth: 2 },
  }];
  els.push({
    type: 'circle', z: 60, silent: true,
    shape: { cx: 2243, cy: rows[0], r: 9.5 },
    style: { fill: 'none', stroke: C_BLUE, lineWidth: 2 },
  });
  els.push(txt('Data', 2294, rows[0], 27, '#000', { align: 'left' }));
  pdfLineNames.forEach((n, k) => {
    els.push({
      type: 'line', z: 60, silent: true,
      shape: { x1: 2198, y1: rows[k + 1], x2: 2288, y2: rows[k + 1] },
      style: { stroke: pdfLineColors[k], lineWidth: 2.5 },
    });
    els.push(txt(n, 2294, rows[k + 1], 27, '#000', { align: 'left' }));
  });
  return els;
}

export default function App() {
  const ref = useRef<HTMLDivElement>(null);

  useEffect(() => {
    if (!ref.current) return;
    const chart = echarts.init(ref.current, undefined, { renderer: 'svg' });

    // (c) title with R^2_adj
    const TS = 33;
    const SS = 24;
    const t1 = 'Comparison of R';
    const t3 = ' at various observation aspects';
    const w1 = measure(t1, TS);
    const wS = Math.max(measure('2', SS), measure('adj', SS)) + 2;
    const w3 = measure(t3, TS);
    const cx0 = 650 - (w1 + wS + w3) / 2;
    const cTitleY = 1084;

    const wR = measure('R', TS);
    const yLabTotal = wR + wS;

    const graphicEls: any[] = [
      txt('Comparison of RMSE at various observation aspects', 650, 35, TS, '#000'),
      txt('Comparison of correlation coefficient at various observation aspects', 1964, 35, TS, '#000'),
      txt(t1, cx0, cTitleY, TS, '#000', { align: 'left' }),
      txt('2', cx0 + w1 + 1, cTitleY - 13, SS, '#000', { align: 'left' }),
      txt('adj', cx0 + w1 + 1, cTitleY + 13, SS, '#000', { align: 'left' }),
      txt(t3, cx0 + w1 + wS, cTitleY, TS, '#000', { align: 'left' }),
      txt('Result for an observation aspect at 79\u00B0', 1962, 1096, TS, '#000'),
      txt('RMSE', 58, 442, TS, AXIS_COLOR, { rotation: Math.PI / 2 }),
      txt('Correlation coefficient', 1356, 442, TS, AXIS_COLOR, { rotation: Math.PI / 2 }),
      txt('PDF', 1388, 1503, TS, AXIS_COLOR, { rotation: Math.PI / 2 }),
      {
        type: 'group',
        x: 48,
        y: 1504,
        rotation: Math.PI / 2,
        children: [
          txt('R', -yLabTotal / 2, 0, TS, AXIS_COLOR, { align: 'left' }),
          txt('2', -yLabTotal / 2 + wR + 1, -12, SS, AXIS_COLOR, { align: 'left' }),
          txt('adj', -yLabTotal / 2 + wR + 1, 13, SS, AXIS_COLOR, { align: 'left' }),
        ],
      },
      txt('Observation aspect', 650, 902, TS, AXIS_COLOR),
      txt('Observation aspect', 1964, 902, TS, AXIS_COLOR),
      txt('Observation aspect', 650, 1965, TS, AXIS_COLOR),
      txt('Normalized Amplitude', 1962, 1965, TS, AXIS_COLOR),
      txt('(a)', 622, 1002, 70, '#000', { family: SERIF, weight: 'bold' }),
      txt('(b)', 1940, 1002, 70, '#000', { family: SERIF, weight: 'bold' }),
      txt('(c)', 626, 2061, 70, '#000', { family: SERIF, weight: 'bold' }),
      txt('(d)', 1942, 2061, 70, '#000', { family: SERIF, weight: 'bold' }),
      ...scatterLegend(872, 81, 244, 187, 921, 975, [105, 141, 177, 213, 249]),
      ...scatterLegend(2189, 81, 245, 187, 2240, 2294, [105, 141, 177, 213, 249]),
      ...scatterLegend(872, 1144, 244, 187, 921, 975, [1167, 1203, 1239, 1275, 1311]),
      ...pdfLegend(),
    ];

    const grids = [
      { left: 158, top: 57, width: 984, height: 771 },
      { left: 1472, top: 57, width: 985, height: 771 },
      { left: 158, top: 1120, width: 984, height: 768 },
      { left: 1471, top: 1118, width: 983, height: 770 },
    ].map((g) => ({ ...g, containLabel: false, outerBoundsMode: 'none', show: false }));

    const xAxes = [
      makeAxis(0, 'bottom', 0, 400, 50, true, 14),
      makeAxis(0, 'top', 0, 400, 50, false, 14),
      makeAxis(1, 'bottom', 0, 400, 50, true, 14),
      makeAxis(1, 'top', 0, 400, 50, false, 14),
      makeAxis(2, 'bottom', 0, 400, 50, true, 14),
      makeAxis(2, 'top', 0, 400, 50, false, 14),
      makeAxis(3, 'bottom', 0, 5, 1, true, 14),
    ];
    const yAxes = [
      makeAxis(0, 'left', 0, 0.07, 0.01, true, 14),
      makeAxis(0, 'right', 0, 0.07, 0.01, false, 14),
      makeAxis(1, 'left', 0.975, 1, 0.005, true, 14),
      makeAxis(1, 'right', 0.975, 1, 0.005, false, 14),
      makeAxis(2, 'left', 0.94, 1, 0.01, true, 14),
      makeAxis(2, 'right', 0.94, 1, 0.01, false, 14),
      makeAxis(3, 'left', 0, 0.8, 0.1, true, 12),
    ];

    const series: any[] = [
      ...scatterPanel(0, [rmseWeibull, rmseGamma, rmseLognormal, rmseK, rmseG0]),
      ...scatterPanel(2, [corrWeibull, corrGamma, corrLognormal, corrK, corrG0]),
      ...scatterPanel(4, [r2Weibull, r2Gamma, r2Lognormal, r2K, r2G0]),
    ];
    series.push({
      type: 'scatter',
      name: 'Data',
      xAxisIndex: 6,
      yAxisIndex: 6,
      data: pdfData.map((v, i) => [parseFloat((PDF_STEP * (i + 1)).toFixed(3)), v]),
      symbol: 'circle',
      symbolSize: 15,
      itemStyle: { color: 'transparent', borderColor: C_BLUE, borderWidth: 2 },
      clip: false,
      silent: true,
      z: 2,
    });
    const lineSets = [pdfWeibull, pdfLognormal, pdfGamma, pdfK, pdfG0];
    lineSets.forEach((vals, k) => {
      series.push({
        type: 'line',
        name: pdfLineNames[k],
        xAxisIndex: 6,
        yAxisIndex: 6,
        data: vals.map((v, i) => [pdfLineX[i], v]),
        symbol: 'none',
        showSymbol: false,
        smooth: 0.25,
        smoothMonotone: 'x',
        lineStyle: { color: pdfLineColors[k], width: 2.5 },
        itemStyle: { color: pdfLineColors[k] },
        silent: true,
        z: 3,
      });
    });

    chart.setOption({
      animation: false,
      backgroundColor: '#ffffff',
      textStyle: { fontFamily: FONT },
      grid: grids,
      xAxis: xAxes,
      yAxis: yAxes,
      series,
      graphic: { elements: graphicEls },
    });

    return () => {
      chart.dispose();
    };
  }, []);

  return (
    <div
      ref={ref}
      style={{ position: 'absolute', left: 0, top: 0, width: 2488, height: 2114, background: '#fff' }}
    />
  );
}
